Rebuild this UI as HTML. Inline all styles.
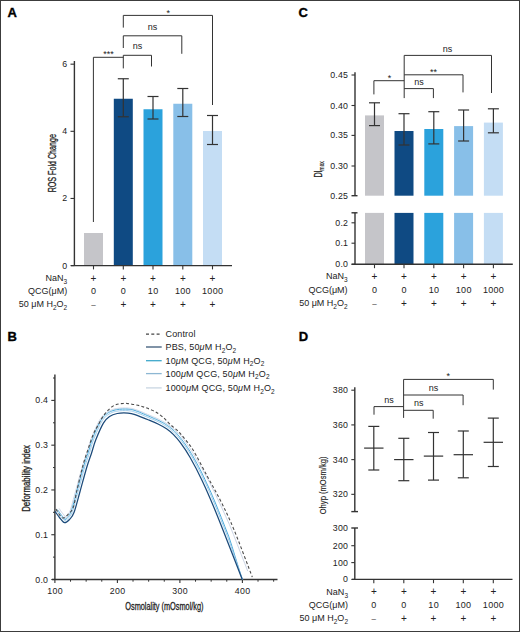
<!DOCTYPE html>
<html><head><meta charset="utf-8"><style>
html,body{margin:0;padding:0;background:#fff;}
svg{display:block;font-family:"Liberation Sans", sans-serif;}
</style></head><body>
<svg width="520" height="632" viewBox="0 0 520 632">
<rect x="0" y="0" width="520" height="632" fill="#fff"/>
<text x="7.5" y="16.6" font-size="13" text-anchor="start" fill="#000" font-weight="bold" stroke="#000" stroke-width="0.35">A</text>
<line x1="74.4" y1="61" x2="74.4" y2="265.6" stroke="#333" stroke-width="1.4" />
<line x1="70.5" y1="265.6" x2="74.4" y2="265.6" stroke="#333" stroke-width="1.1" />
<text x="67.45" y="268.6" font-size="8.8" text-anchor="end" fill="#222" letter-spacing="0.25" >0</text>
<line x1="70.5" y1="198.46" x2="74.4" y2="198.46" stroke="#333" stroke-width="1.1" />
<text x="67.45" y="201.46" font-size="8.8" text-anchor="end" fill="#222" letter-spacing="0.25" >2</text>
<line x1="70.5" y1="131.32" x2="74.4" y2="131.32" stroke="#333" stroke-width="1.1" />
<text x="67.45" y="134.32" font-size="8.8" text-anchor="end" fill="#222" letter-spacing="0.25" >4</text>
<line x1="70.5" y1="64.18" x2="74.4" y2="64.18" stroke="#333" stroke-width="1.1" />
<text x="67.45" y="67.18" font-size="8.8" text-anchor="end" fill="#222" letter-spacing="0.25" >6</text>
<rect x="84" y="233" width="19" height="32.6" fill="#c5c5c9"/>
<rect x="113.8" y="98.75" width="19" height="166.85" fill="#0f4a83"/>
<rect x="143.5" y="109.25" width="19" height="156.35" fill="#2ba2dc"/>
<rect x="173.3" y="103.75" width="19" height="161.85" fill="#88bfe8"/>
<rect x="203" y="131" width="19" height="134.6" fill="#c4ddf4"/>
<line x1="71" y1="265.6" x2="232" y2="265.6" stroke="#333" stroke-width="1.4" />
<line x1="93.5" y1="265.6" x2="93.5" y2="269.4" stroke="#333" stroke-width="1.1" />
<line x1="123.3" y1="265.6" x2="123.3" y2="269.4" stroke="#333" stroke-width="1.1" />
<line x1="153" y1="265.6" x2="153" y2="269.4" stroke="#333" stroke-width="1.1" />
<line x1="182.8" y1="265.6" x2="182.8" y2="269.4" stroke="#333" stroke-width="1.1" />
<line x1="212.5" y1="265.6" x2="212.5" y2="269.4" stroke="#333" stroke-width="1.1" />
<line x1="123.3" y1="78.75" x2="123.3" y2="116.75" stroke="#333" stroke-width="1.2" />
<line x1="117.8" y1="78.75" x2="128.8" y2="78.75" stroke="#333" stroke-width="1.2" />
<line x1="117.8" y1="116.75" x2="128.8" y2="116.75" stroke="#333" stroke-width="1.2" />
<line x1="153" y1="96.5" x2="153" y2="119" stroke="#333" stroke-width="1.2" />
<line x1="147.5" y1="96.5" x2="158.5" y2="96.5" stroke="#333" stroke-width="1.2" />
<line x1="147.5" y1="119" x2="158.5" y2="119" stroke="#333" stroke-width="1.2" />
<line x1="182.8" y1="88.5" x2="182.8" y2="116.5" stroke="#333" stroke-width="1.2" />
<line x1="177.3" y1="88.5" x2="188.3" y2="88.5" stroke="#333" stroke-width="1.2" />
<line x1="177.3" y1="116.5" x2="188.3" y2="116.5" stroke="#333" stroke-width="1.2" />
<line x1="212.5" y1="115.5" x2="212.5" y2="144.5" stroke="#333" stroke-width="1.2" />
<line x1="207" y1="115.5" x2="218" y2="115.5" stroke="#333" stroke-width="1.2" />
<line x1="207" y1="144.5" x2="218" y2="144.5" stroke="#333" stroke-width="1.2" />
<path d="M123.3,27.6V15.4H212.5V105" fill="none" stroke="#333" stroke-width="1.0" />
<path d="M123.3,48V35.8H181.8V53.8" fill="none" stroke="#333" stroke-width="1.0" />
<path d="M123.3,68.4V55.3H151.5V66.5" fill="none" stroke="#333" stroke-width="1.0" />
<path d="M93.4,222V57.3H123.3" fill="none" stroke="#333" stroke-width="1.0" />
<text x="168.2" y="15.5" font-size="9" text-anchor="middle" fill="#222" >*</text>
<text x="152.6" y="29.8" font-size="9" text-anchor="middle" fill="#222" >ns</text>
<text x="137.6" y="49.3" font-size="9" text-anchor="middle" fill="#222" >ns</text>
<text x="108.5" y="57" font-size="9" text-anchor="middle" fill="#222" >***</text>
<g transform="translate(55.6,163.2) rotate(-90) scale(0.68,1)"><text x="0" y="0" font-size="10.5" stroke="#222" stroke-width="0.3" text-anchor="middle" fill="#222">ROS Fold Change</text></g>
<text x="67.2" y="280.9" font-size="9" text-anchor="end" fill="#222" >NaN<tspan font-size="6.5" dy="2.8">3</tspan></text>
<text x="67.2" y="294.2" font-size="9" text-anchor="end" fill="#222" >QCG(μM)</text>
<text x="67.2" y="307.4" font-size="9" text-anchor="end" fill="#222" >50 μM H<tspan font-size="6.5" dy="2.8">2</tspan><tspan dy="-2.8">O</tspan><tspan font-size="6.5" dy="2.8">2</tspan></text>
<text x="93.5" y="281.9" font-size="10" text-anchor="middle" fill="#222" >+</text>
<text x="93.65" y="294.25" font-size="9" text-anchor="middle" fill="#222" letter-spacing="0.3" >0</text>
<text x="93.5" y="307.1" font-size="8" text-anchor="middle" fill="#222" >–</text>
<text x="123.3" y="281.9" font-size="10" text-anchor="middle" fill="#222" >+</text>
<text x="123.45" y="294.25" font-size="9" text-anchor="middle" fill="#222" letter-spacing="0.3" >0</text>
<text x="123.3" y="308.2" font-size="10" text-anchor="middle" fill="#222" >+</text>
<text x="153" y="281.9" font-size="10" text-anchor="middle" fill="#222" >+</text>
<text x="153.15" y="294.25" font-size="9" text-anchor="middle" fill="#222" letter-spacing="0.3" >10</text>
<text x="153" y="308.2" font-size="10" text-anchor="middle" fill="#222" >+</text>
<text x="182.8" y="281.9" font-size="10" text-anchor="middle" fill="#222" >+</text>
<text x="182.95" y="294.25" font-size="9" text-anchor="middle" fill="#222" letter-spacing="0.3" >100</text>
<text x="182.8" y="308.2" font-size="10" text-anchor="middle" fill="#222" >+</text>
<text x="212.5" y="281.9" font-size="10" text-anchor="middle" fill="#222" >+</text>
<text x="212.65" y="294.25" font-size="9" text-anchor="middle" fill="#222" letter-spacing="0.3" >1000</text>
<text x="212.5" y="308.2" font-size="10" text-anchor="middle" fill="#222" >+</text>
<text x="298.5" y="17.1" font-size="13" text-anchor="start" fill="#000" font-weight="bold" stroke="#000" stroke-width="0.35">C</text>
<line x1="355" y1="72.2" x2="355" y2="195.7" stroke="#333" stroke-width="1.4" />
<line x1="351.5" y1="195.7" x2="357.5" y2="195.7" stroke="#333" stroke-width="1.4" />
<line x1="351.5" y1="75" x2="355" y2="75" stroke="#333" stroke-width="1.1" />
<text x="348.25" y="78" font-size="8.8" text-anchor="end" fill="#222" letter-spacing="0.25" >0.45</text>
<line x1="351.5" y1="105.5" x2="355" y2="105.5" stroke="#333" stroke-width="1.1" />
<text x="348.25" y="108.5" font-size="8.8" text-anchor="end" fill="#222" letter-spacing="0.25" >0.40</text>
<line x1="351.5" y1="135.4" x2="355" y2="135.4" stroke="#333" stroke-width="1.1" />
<text x="348.25" y="138.4" font-size="8.8" text-anchor="end" fill="#222" letter-spacing="0.25" >0.35</text>
<line x1="351.5" y1="166" x2="355" y2="166" stroke="#333" stroke-width="1.1" />
<text x="348.25" y="169" font-size="8.8" text-anchor="end" fill="#222" letter-spacing="0.25" >0.30</text>
<text x="348.25" y="198.7" font-size="8.8" text-anchor="end" fill="#222" letter-spacing="0.25" >0.25</text>
<line x1="355" y1="212.8" x2="355" y2="264.3" stroke="#333" stroke-width="1.4" />
<line x1="351.5" y1="212.8" x2="357.5" y2="212.8" stroke="#333" stroke-width="1.4" />
<line x1="351.5" y1="222.8" x2="355" y2="222.8" stroke="#333" stroke-width="1.1" />
<text x="348.25" y="225.8" font-size="8.8" text-anchor="end" fill="#222" letter-spacing="0.25" >0.2</text>
<line x1="351.5" y1="243.2" x2="355" y2="243.2" stroke="#333" stroke-width="1.1" />
<text x="348.25" y="246.2" font-size="8.8" text-anchor="end" fill="#222" letter-spacing="0.25" >0.1</text>
<line x1="351.5" y1="264.3" x2="355" y2="264.3" stroke="#333" stroke-width="1.1" />
<text x="348.25" y="267.3" font-size="8.8" text-anchor="end" fill="#222" letter-spacing="0.25" >0.0</text>
<rect x="365" y="115.4" width="19" height="80.3" fill="#c5c5c9"/>
<rect x="365" y="212.9" width="19" height="51.4" fill="#c5c5c9"/>
<rect x="394.5" y="131" width="19" height="64.7" fill="#0f4a83"/>
<rect x="394.5" y="212.9" width="19" height="51.4" fill="#0f4a83"/>
<rect x="424.3" y="129" width="19" height="66.7" fill="#2ba2dc"/>
<rect x="424.3" y="212.9" width="19" height="51.4" fill="#2ba2dc"/>
<rect x="454.1" y="126.1" width="19" height="69.6" fill="#88bfe8"/>
<rect x="454.1" y="212.9" width="19" height="51.4" fill="#88bfe8"/>
<rect x="483.9" y="122.6" width="19" height="73.1" fill="#c4ddf4"/>
<rect x="483.9" y="212.9" width="19" height="51.4" fill="#c4ddf4"/>
<line x1="351.6" y1="264.3" x2="512.8" y2="264.3" stroke="#333" stroke-width="1.4" />
<line x1="374.5" y1="264.3" x2="374.5" y2="268.2" stroke="#333" stroke-width="1.1" />
<line x1="404" y1="264.3" x2="404" y2="268.2" stroke="#333" stroke-width="1.1" />
<line x1="433.8" y1="264.3" x2="433.8" y2="268.2" stroke="#333" stroke-width="1.1" />
<line x1="463.6" y1="264.3" x2="463.6" y2="268.2" stroke="#333" stroke-width="1.1" />
<line x1="493.4" y1="264.3" x2="493.4" y2="268.2" stroke="#333" stroke-width="1.1" />
<line x1="374.5" y1="102.8" x2="374.5" y2="125.6" stroke="#333" stroke-width="1.2" />
<line x1="369" y1="102.8" x2="380" y2="102.8" stroke="#333" stroke-width="1.2" />
<line x1="369" y1="125.6" x2="380" y2="125.6" stroke="#333" stroke-width="1.2" />
<line x1="404" y1="113.7" x2="404" y2="145" stroke="#333" stroke-width="1.2" />
<line x1="398.5" y1="113.7" x2="409.5" y2="113.7" stroke="#333" stroke-width="1.2" />
<line x1="398.5" y1="145" x2="409.5" y2="145" stroke="#333" stroke-width="1.2" />
<line x1="433.8" y1="111.7" x2="433.8" y2="143.9" stroke="#333" stroke-width="1.2" />
<line x1="428.3" y1="111.7" x2="439.3" y2="111.7" stroke="#333" stroke-width="1.2" />
<line x1="428.3" y1="143.9" x2="439.3" y2="143.9" stroke="#333" stroke-width="1.2" />
<line x1="463.6" y1="110" x2="463.6" y2="141" stroke="#333" stroke-width="1.2" />
<line x1="458.1" y1="110" x2="469.1" y2="110" stroke="#333" stroke-width="1.2" />
<line x1="458.1" y1="141" x2="469.1" y2="141" stroke="#333" stroke-width="1.2" />
<line x1="493.4" y1="108.8" x2="493.4" y2="132.8" stroke="#333" stroke-width="1.2" />
<line x1="487.9" y1="108.8" x2="498.9" y2="108.8" stroke="#333" stroke-width="1.2" />
<line x1="487.9" y1="132.8" x2="498.9" y2="132.8" stroke="#333" stroke-width="1.2" />
<path d="M373.9,94.4V80.7H404.2" fill="none" stroke="#333" stroke-width="1.0" />
<line x1="404.2" y1="55.4" x2="404.2" y2="98.1" stroke="#333" stroke-width="1.0" />
<path d="M404.2,55.4H491.5V93" fill="none" stroke="#333" stroke-width="1.0" />
<path d="M404.2,74.8H463V92.4" fill="none" stroke="#333" stroke-width="1.0" />
<path d="M404.2,88.6H433.4V98.1" fill="none" stroke="#333" stroke-width="1.0" />
<text x="389.4" y="81" font-size="9" text-anchor="middle" fill="#222" >*</text>
<text x="447.5" y="51.8" font-size="9" text-anchor="middle" fill="#222" >ns</text>
<text x="433.4" y="74.8" font-size="9" text-anchor="middle" fill="#222" >**</text>
<text x="419" y="84.6" font-size="9" text-anchor="middle" fill="#222" >ns</text>
<g transform="translate(322.0,169.4) rotate(-90) scale(0.72,1)"><text x="0" y="0" font-size="10" stroke="#222" stroke-width="0.25" text-anchor="middle" fill="#222">DI<tspan font-size="6.8" dy="2.1" stroke-width="0.15">max</tspan></text></g>
<text x="347.6" y="279.3" font-size="9" text-anchor="end" fill="#222" >NaN<tspan font-size="6.5" dy="2.8">3</tspan></text>
<text x="347.6" y="292.7" font-size="9" text-anchor="end" fill="#222" >QCG(μM)</text>
<text x="347.6" y="305.9" font-size="9" text-anchor="end" fill="#222" >50 μM H<tspan font-size="6.5" dy="2.8">2</tspan><tspan dy="-2.8">O</tspan><tspan font-size="6.5" dy="2.8">2</tspan></text>
<text x="374.5" y="280.3" font-size="10" text-anchor="middle" fill="#222" >+</text>
<text x="374.65" y="292.75" font-size="9" text-anchor="middle" fill="#222" letter-spacing="0.3" >0</text>
<text x="374.5" y="305.7" font-size="8" text-anchor="middle" fill="#222" >–</text>
<text x="404" y="280.3" font-size="10" text-anchor="middle" fill="#222" >+</text>
<text x="404.15" y="292.75" font-size="9" text-anchor="middle" fill="#222" letter-spacing="0.3" >0</text>
<text x="404" y="306.8" font-size="10" text-anchor="middle" fill="#222" >+</text>
<text x="433.8" y="280.3" font-size="10" text-anchor="middle" fill="#222" >+</text>
<text x="433.95" y="292.75" font-size="9" text-anchor="middle" fill="#222" letter-spacing="0.3" >10</text>
<text x="433.8" y="306.8" font-size="10" text-anchor="middle" fill="#222" >+</text>
<text x="463.6" y="280.3" font-size="10" text-anchor="middle" fill="#222" >+</text>
<text x="463.75" y="292.75" font-size="9" text-anchor="middle" fill="#222" letter-spacing="0.3" >100</text>
<text x="463.6" y="306.8" font-size="10" text-anchor="middle" fill="#222" >+</text>
<text x="493.4" y="280.3" font-size="10" text-anchor="middle" fill="#222" >+</text>
<text x="493.55" y="292.75" font-size="9" text-anchor="middle" fill="#222" letter-spacing="0.3" >1000</text>
<text x="493.4" y="306.8" font-size="10" text-anchor="middle" fill="#222" >+</text>
<text x="298.8" y="341" font-size="13" text-anchor="start" fill="#000" font-weight="bold" stroke="#000" stroke-width="0.35">D</text>
<line x1="354.8" y1="387.3" x2="354.8" y2="511.6" stroke="#333" stroke-width="1.4" />
<line x1="351.3" y1="511.6" x2="358" y2="511.6" stroke="#333" stroke-width="1.4" />
<line x1="351.3" y1="390.2" x2="354.8" y2="390.2" stroke="#333" stroke-width="1.1" />
<text x="348.25" y="393.2" font-size="8.8" text-anchor="end" fill="#222" letter-spacing="0.25" >380</text>
<line x1="351.3" y1="424.91" x2="354.8" y2="424.91" stroke="#333" stroke-width="1.1" />
<text x="348.25" y="427.91" font-size="8.8" text-anchor="end" fill="#222" letter-spacing="0.25" >360</text>
<line x1="351.3" y1="459.62" x2="354.8" y2="459.62" stroke="#333" stroke-width="1.1" />
<text x="348.25" y="462.62" font-size="8.8" text-anchor="end" fill="#222" letter-spacing="0.25" >340</text>
<line x1="351.3" y1="494.33" x2="354.8" y2="494.33" stroke="#333" stroke-width="1.1" />
<text x="348.25" y="497.33" font-size="8.8" text-anchor="end" fill="#222" letter-spacing="0.25" >320</text>
<line x1="354.8" y1="528" x2="354.8" y2="579.4" stroke="#333" stroke-width="1.4" />
<line x1="351.3" y1="528" x2="358" y2="528" stroke="#333" stroke-width="1.4" />
<text x="348.25" y="531" font-size="8.8" text-anchor="end" fill="#222" letter-spacing="0.25" >300</text>
<line x1="351.3" y1="545.7" x2="354.8" y2="545.7" stroke="#333" stroke-width="1.1" />
<text x="348.25" y="548.7" font-size="8.8" text-anchor="end" fill="#222" letter-spacing="0.25" >200</text>
<line x1="351.3" y1="562.6" x2="354.8" y2="562.6" stroke="#333" stroke-width="1.1" />
<text x="348.25" y="565.6" font-size="8.8" text-anchor="end" fill="#222" letter-spacing="0.25" >100</text>
<line x1="351.3" y1="579.4" x2="354.8" y2="579.4" stroke="#333" stroke-width="1.1" />
<text x="348.25" y="582.4" font-size="8.8" text-anchor="end" fill="#222" letter-spacing="0.25" >0</text>
<line x1="352" y1="579.4" x2="512.5" y2="579.4" stroke="#333" stroke-width="1.4" />
<line x1="373.8" y1="579.4" x2="373.8" y2="583.2" stroke="#333" stroke-width="1.1" />
<line x1="403.8" y1="579.4" x2="403.8" y2="583.2" stroke="#333" stroke-width="1.1" />
<line x1="433.5" y1="579.4" x2="433.5" y2="583.2" stroke="#333" stroke-width="1.1" />
<line x1="463.3" y1="579.4" x2="463.3" y2="583.2" stroke="#333" stroke-width="1.1" />
<line x1="493.3" y1="579.4" x2="493.3" y2="583.2" stroke="#333" stroke-width="1.1" />
<line x1="373.8" y1="426.4" x2="373.8" y2="470" stroke="#333" stroke-width="1.2" />
<line x1="368.3" y1="426.4" x2="379.3" y2="426.4" stroke="#333" stroke-width="1.2" />
<line x1="368.3" y1="470" x2="379.3" y2="470" stroke="#333" stroke-width="1.2" />
<line x1="364.1" y1="448.1" x2="383.5" y2="448.1" stroke="#333" stroke-width="1.2" />
<line x1="403.8" y1="438.3" x2="403.8" y2="480.7" stroke="#333" stroke-width="1.2" />
<line x1="398.3" y1="438.3" x2="409.3" y2="438.3" stroke="#333" stroke-width="1.2" />
<line x1="398.3" y1="480.7" x2="409.3" y2="480.7" stroke="#333" stroke-width="1.2" />
<line x1="394.1" y1="459.6" x2="413.5" y2="459.6" stroke="#333" stroke-width="1.2" />
<line x1="433.5" y1="432.5" x2="433.5" y2="480.1" stroke="#333" stroke-width="1.2" />
<line x1="428" y1="432.5" x2="439" y2="432.5" stroke="#333" stroke-width="1.2" />
<line x1="428" y1="480.1" x2="439" y2="480.1" stroke="#333" stroke-width="1.2" />
<line x1="423.8" y1="456.1" x2="443.2" y2="456.1" stroke="#333" stroke-width="1.2" />
<line x1="463.3" y1="431" x2="463.3" y2="477.8" stroke="#333" stroke-width="1.2" />
<line x1="457.8" y1="431" x2="468.8" y2="431" stroke="#333" stroke-width="1.2" />
<line x1="457.8" y1="477.8" x2="468.8" y2="477.8" stroke="#333" stroke-width="1.2" />
<line x1="453.6" y1="454.7" x2="473" y2="454.7" stroke="#333" stroke-width="1.2" />
<line x1="493.3" y1="418.1" x2="493.3" y2="466.5" stroke="#333" stroke-width="1.2" />
<line x1="487.8" y1="418.1" x2="498.8" y2="418.1" stroke="#333" stroke-width="1.2" />
<line x1="487.8" y1="466.5" x2="498.8" y2="466.5" stroke="#333" stroke-width="1.2" />
<line x1="483.6" y1="442.3" x2="503" y2="442.3" stroke="#333" stroke-width="1.2" />
<path d="M374,414.7V406.6H403.6" fill="none" stroke="#333" stroke-width="1.0" />
<line x1="403.6" y1="379.4" x2="403.6" y2="417.9" stroke="#333" stroke-width="1.0" />
<path d="M403.6,379.4H493.3V389.6" fill="none" stroke="#333" stroke-width="1.0" />
<path d="M403.6,395H463.1V405.2" fill="none" stroke="#333" stroke-width="1.0" />
<path d="M403.6,410.3H433.2V418.7" fill="none" stroke="#333" stroke-width="1.0" />
<text x="448.3" y="379" font-size="9" text-anchor="middle" fill="#222" >*</text>
<text x="433.5" y="390.5" font-size="9" text-anchor="middle" fill="#222" >ns</text>
<text x="418.7" y="405.8" font-size="9" text-anchor="middle" fill="#222" >ns</text>
<text x="389.1" y="403.2" font-size="9" text-anchor="middle" fill="#222" >ns</text>
<g transform="translate(326.4,485.4) rotate(-90) scale(0.8,1)"><text x="0" y="0" font-size="9.5" stroke="#222" stroke-width="0.15" text-anchor="middle" fill="#222">Ohyp (mOsm/kg)</text></g>
<text x="348" y="594.9" font-size="9" text-anchor="end" fill="#222" >NaN<tspan font-size="6.5" dy="2.8">3</tspan></text>
<text x="348" y="608" font-size="9" text-anchor="end" fill="#222" >QCG(μM)</text>
<text x="348" y="621.4" font-size="9" text-anchor="end" fill="#222" >50 μM H<tspan font-size="6.5" dy="2.8">2</tspan><tspan dy="-2.8">O</tspan><tspan font-size="6.5" dy="2.8">2</tspan></text>
<text x="373.8" y="595.3" font-size="10" text-anchor="middle" fill="#222" >+</text>
<text x="373.95" y="608.05" font-size="9" text-anchor="middle" fill="#222" letter-spacing="0.3" >0</text>
<text x="373.8" y="621.1" font-size="8" text-anchor="middle" fill="#222" >–</text>
<text x="403.8" y="595.3" font-size="10" text-anchor="middle" fill="#222" >+</text>
<text x="403.95" y="608.05" font-size="9" text-anchor="middle" fill="#222" letter-spacing="0.3" >0</text>
<text x="403.8" y="622.2" font-size="10" text-anchor="middle" fill="#222" >+</text>
<text x="433.5" y="595.3" font-size="10" text-anchor="middle" fill="#222" >+</text>
<text x="433.65" y="608.05" font-size="9" text-anchor="middle" fill="#222" letter-spacing="0.3" >10</text>
<text x="433.5" y="622.2" font-size="10" text-anchor="middle" fill="#222" >+</text>
<text x="463.3" y="595.3" font-size="10" text-anchor="middle" fill="#222" >+</text>
<text x="463.45" y="608.05" font-size="9" text-anchor="middle" fill="#222" letter-spacing="0.3" >100</text>
<text x="463.3" y="622.2" font-size="10" text-anchor="middle" fill="#222" >+</text>
<text x="493.3" y="595.3" font-size="10" text-anchor="middle" fill="#222" >+</text>
<text x="493.45" y="608.05" font-size="9" text-anchor="middle" fill="#222" letter-spacing="0.3" >1000</text>
<text x="493.3" y="622.2" font-size="10" text-anchor="middle" fill="#222" >+</text>
<text x="7.6" y="341" font-size="13" text-anchor="start" fill="#000" font-weight="bold" stroke="#000" stroke-width="0.35">B</text>
<line x1="54.9" y1="374.6" x2="54.9" y2="579.5" stroke="#333" stroke-width="1.4" />
<line x1="51.3" y1="579.5" x2="54.9" y2="579.5" stroke="#333" stroke-width="1.1" />
<text x="48.25" y="582.5" font-size="8.8" text-anchor="end" fill="#222" letter-spacing="0.25" >0.0</text>
<line x1="53" y1="557.11" x2="54.9" y2="557.11" stroke="#333" stroke-width="1.0" />
<line x1="51.3" y1="534.73" x2="54.9" y2="534.73" stroke="#333" stroke-width="1.1" />
<text x="48.25" y="537.73" font-size="8.8" text-anchor="end" fill="#222" letter-spacing="0.25" >0.1</text>
<line x1="53" y1="512.34" x2="54.9" y2="512.34" stroke="#333" stroke-width="1.0" />
<line x1="51.3" y1="489.95" x2="54.9" y2="489.95" stroke="#333" stroke-width="1.1" />
<text x="48.25" y="492.95" font-size="8.8" text-anchor="end" fill="#222" letter-spacing="0.25" >0.2</text>
<line x1="53" y1="467.56" x2="54.9" y2="467.56" stroke="#333" stroke-width="1.0" />
<line x1="51.3" y1="445.17" x2="54.9" y2="445.17" stroke="#333" stroke-width="1.1" />
<text x="48.25" y="448.17" font-size="8.8" text-anchor="end" fill="#222" letter-spacing="0.25" >0.3</text>
<line x1="53" y1="422.79" x2="54.9" y2="422.79" stroke="#333" stroke-width="1.0" />
<line x1="51.3" y1="400.4" x2="54.9" y2="400.4" stroke="#333" stroke-width="1.1" />
<text x="48.25" y="403.4" font-size="8.8" text-anchor="end" fill="#222" letter-spacing="0.25" >0.4</text>
<line x1="53" y1="378.01" x2="54.9" y2="378.01" stroke="#333" stroke-width="1.0" />
<line x1="52" y1="579.5" x2="277.5" y2="579.5" stroke="#333" stroke-width="1.4" />
<line x1="54.9" y1="579.5" x2="54.9" y2="583" stroke="#333" stroke-width="1.1" />
<text x="55.1" y="594" font-size="8.8" text-anchor="middle" fill="#222" letter-spacing="0.4" >100</text>
<line x1="70.53" y1="579.5" x2="70.53" y2="581.7" stroke="#333" stroke-width="1.0" />
<line x1="86.15" y1="579.5" x2="86.15" y2="581.7" stroke="#333" stroke-width="1.0" />
<line x1="101.78" y1="579.5" x2="101.78" y2="581.7" stroke="#333" stroke-width="1.0" />
<line x1="117.4" y1="579.5" x2="117.4" y2="583" stroke="#333" stroke-width="1.1" />
<text x="117.6" y="594" font-size="8.8" text-anchor="middle" fill="#222" letter-spacing="0.4" >200</text>
<line x1="133.03" y1="579.5" x2="133.03" y2="581.7" stroke="#333" stroke-width="1.0" />
<line x1="148.65" y1="579.5" x2="148.65" y2="581.7" stroke="#333" stroke-width="1.0" />
<line x1="164.28" y1="579.5" x2="164.28" y2="581.7" stroke="#333" stroke-width="1.0" />
<line x1="179.9" y1="579.5" x2="179.9" y2="583" stroke="#333" stroke-width="1.1" />
<text x="180.1" y="594" font-size="8.8" text-anchor="middle" fill="#222" letter-spacing="0.4" >300</text>
<line x1="195.53" y1="579.5" x2="195.53" y2="581.7" stroke="#333" stroke-width="1.0" />
<line x1="211.15" y1="579.5" x2="211.15" y2="581.7" stroke="#333" stroke-width="1.0" />
<line x1="226.78" y1="579.5" x2="226.78" y2="581.7" stroke="#333" stroke-width="1.0" />
<line x1="242.4" y1="579.5" x2="242.4" y2="583" stroke="#333" stroke-width="1.1" />
<text x="242.6" y="594" font-size="8.8" text-anchor="middle" fill="#222" letter-spacing="0.4" >400</text>
<line x1="258.02" y1="579.5" x2="258.02" y2="581.7" stroke="#333" stroke-width="1.0" />
<line x1="273.65" y1="579.5" x2="273.65" y2="581.7" stroke="#333" stroke-width="1.0" />
<g transform="translate(164.4,609.6) scale(0.7,1)"><text x="0" y="0" font-size="10.5" stroke="#222" stroke-width="0.3" text-anchor="middle" fill="#222">Osmolality (mOsmol/kg)</text></g>
<g transform="translate(30.2,478.4) rotate(-90) scale(0.75,1)"><text x="0" y="0" font-size="10.5" stroke="#222" stroke-width="0.3" text-anchor="middle" fill="#222">Deformability index</text></g>
<path d="M59.1,508.4 L59.4,508.9 L59.9,509.6 L60.4,510.4 L61.0,511.2 L61.6,512.1 L62.2,512.9 L62.8,513.7 L63.4,514.3 L64.1,515.2 L64.7,516.1 L65.3,516.8 L65.8,517.5 L66.2,518.0 L66.4,518.2 L66.3,518.1 L65.5,517.8 L64.6,517.8 L64.1,517.9 L63.9,517.9 L64.0,517.9 L64.4,517.6 L64.8,517.2 L65.3,516.7 L65.8,516.1 L66.5,515.4 L67.0,514.9 L67.4,514.5 L67.7,514.0 L68.6,513.9 L69.1,513.2 L69.5,512.1 L70.1,510.8 L70.7,509.1 L71.3,507.0 L72.0,504.7 L72.7,502.1 L73.4,499.4 L74.2,496.6 L74.9,493.7 L75.7,490.8 L76.5,487.9 L77.4,484.8 L78.2,481.5 L79.1,478.2 L80.0,475.0 L80.9,471.8 L81.7,468.9 L82.4,466.2 L83.2,463.9 L83.8,461.8 L84.4,459.9 L85.0,458.2 L85.6,456.5 L86.1,455.0 L86.7,453.4 L87.2,451.8 L87.7,450.2 L88.2,448.6 L88.6,447.1 L89.0,445.5 L89.5,443.8 L90.1,442.1 L90.7,440.3 L91.4,438.3 L92.2,436.3 L93.1,434.0 L94.1,431.6 L95.2,429.2 L96.2,426.9 L97.3,424.6 L98.3,422.5 L99.3,420.7 L100.2,419.2 L101.2,417.8 L102.1,416.6 L103.0,415.6 L104.0,414.6 L104.9,413.8 L105.8,413.1 L106.8,412.5 L107.8,411.8 L109.0,411.1 L110.1,410.5 L111.3,410.0 L112.5,409.6 L113.7,409.2 L115.0,408.9 L116.3,408.6 L117.8,408.4 L119.3,408.2 L120.9,408.1 L122.5,408.0 L124.1,408.0 L125.6,408.0 L127.0,408.0 L128.3,408.1 L129.4,408.2 L130.4,408.3 L131.4,408.4 L132.3,408.6 L133.3,408.9 L134.3,409.2 L135.3,409.5 L136.6,409.9 L138.1,410.5 L139.9,411.2 L141.8,411.9 L143.8,412.8 L145.7,413.6 L147.6,414.4 L149.4,415.2 L151.0,415.9 L152.4,416.4 L153.7,417.0 L154.9,417.5 L156.0,418.0 L157.1,418.5 L158.3,419.0 L159.4,419.6 L160.5,420.2 L161.6,420.7 L162.7,421.3 L163.8,421.9 L164.8,422.5 L165.9,423.1 L166.9,423.8 L168.0,424.5 L169.0,425.2 L170.0,425.9 L170.9,426.6 L171.9,427.4 L172.8,428.1 L173.8,428.9 L174.7,429.8 L175.6,430.6 L176.5,431.5 L177.4,432.5 L178.5,433.2 L179.4,434.1 L180.3,435.1 L181.2,436.2 L182.1,437.3 L183.1,438.6 L184.1,440.0 L185.2,441.4 L186.3,443.0 L187.5,444.6 L188.7,446.4 L189.9,448.3 L191.2,450.3 L192.6,452.5 L194.0,454.9 L195.4,457.4 L197.0,460.1 L198.6,462.8 L200.3,465.7 L202.1,468.7 L203.8,471.9 L205.6,475.1 L207.4,478.5 L209.1,481.7 L210.7,484.7 L212.2,487.8 L213.9,491.0 L215.6,494.6 L217.5,498.7 L219.8,503.4 L222.4,509.0 L225.6,516.1 L229.5,524.7 L233.4,534.4 L237.4,544.6 L241.2,554.5 L244.8,563.5 L247.7,571.1" fill="none" stroke="#ccd5e6" stroke-width="1.0" stroke-linejoin="round"/>
<path d="M57.4,509.6 L57.8,510.1 L58.3,510.7 L58.8,511.5 L59.4,512.3 L60.0,513.2 L60.6,514.1 L61.3,514.9 L61.8,515.6 L62.5,516.4 L63.1,517.3 L63.7,518.1 L64.3,518.8 L64.8,519.3 L65.2,519.7 L65.3,519.8 L65.1,519.8 L64.8,519.7 L64.8,519.8 L64.9,519.7 L65.2,519.5 L65.7,519.1 L66.2,518.6 L66.7,518.1 L67.3,517.5 L67.9,516.8 L68.5,516.2 L68.9,515.7 L69.3,515.2 L69.7,514.5 L70.1,513.7 L70.6,512.6 L71.2,511.2 L71.8,509.4 L72.5,507.3 L73.1,505.0 L73.8,502.4 L74.6,499.7 L75.3,496.9 L76.1,494.0 L76.8,491.1 L77.6,488.2 L78.5,485.1 L79.4,481.8 L80.3,478.5 L81.1,475.3 L82.0,472.1 L82.8,469.2 L83.6,466.6 L84.3,464.2 L84.9,462.2 L85.5,460.3 L86.1,458.5 L86.7,456.9 L87.2,455.4 L87.8,453.8 L88.3,452.2 L88.8,450.5 L89.3,449.0 L89.7,447.4 L90.2,445.8 L90.6,444.2 L91.2,442.5 L91.8,440.7 L92.5,438.7 L93.3,436.7 L94.2,434.4 L95.2,432.1 L96.2,429.7 L97.3,427.3 L98.3,425.1 L99.3,423.1 L100.3,421.3 L101.2,419.8 L102.1,418.5 L102.9,417.3 L103.8,416.3 L104.7,415.5 L105.6,414.7 L106.5,414.1 L107.4,413.4 L108.4,412.7 L109.5,412.1 L110.6,411.5 L111.7,411.1 L112.9,410.6 L114.0,410.3 L115.2,410.0 L116.5,409.7 L117.9,409.5 L119.4,409.3 L121.0,409.2 L122.5,409.1 L124.1,409.1 L125.6,409.1 L127.0,409.1 L128.2,409.2 L129.3,409.3 L130.3,409.4 L131.2,409.5 L132.1,409.7 L133.0,409.9 L134.0,410.2 L135.0,410.5 L136.2,411.0 L137.8,411.5 L139.5,412.2 L141.4,413.0 L143.3,413.8 L145.3,414.6 L147.2,415.5 L149.0,416.2 L150.5,416.9 L151.9,417.5 L153.2,418.1 L154.4,418.6 L155.6,419.1 L156.7,419.6 L157.8,420.1 L158.9,420.6 L160.0,421.2 L161.1,421.8 L162.2,422.3 L163.2,422.9 L164.3,423.5 L165.3,424.2 L166.3,424.8 L167.3,425.5 L168.3,426.2 L169.3,426.8 L170.2,427.6 L171.2,428.3 L172.1,429.0 L173.0,429.8 L173.9,430.6 L174.8,431.5 L175.7,432.4 L176.6,433.3 L177.4,434.3 L178.2,435.2 L179.1,436.1 L179.9,437.2 L180.8,438.3 L181.8,439.6 L182.8,440.9 L183.9,442.4 L185.0,443.9 L186.1,445.5 L187.3,447.3 L188.6,449.2 L189.9,451.2 L191.2,453.4 L192.6,455.7 L194.0,458.2 L195.5,460.9 L197.0,463.7 L198.6,466.6 L200.2,469.7 L201.8,472.9 L203.4,476.2 L205.0,479.6 L206.5,482.9 L208.0,486.0 L209.4,489.1 L210.9,492.3 L212.4,495.9 L214.2,500.1 L216.2,504.9 L218.5,510.6 L221.4,517.8 L224.8,526.5 L228.7,536.3 L232.1,546.7 L235.2,556.8 L238.1,566.1 L240.5,573.9 L242.3,579.5" fill="none" stroke="#49a9da" stroke-width="1.0" stroke-linejoin="round"/>
<path d="M56.5,510.3 L56.8,510.8 L57.3,511.4 L57.8,512.2 L58.4,513.0 L59.0,513.9 L59.7,514.8 L60.3,515.6 L60.9,516.4 L61.5,517.2 L62.2,518.0 L62.8,518.8 L63.4,519.5 L63.9,520.2 L64.4,520.6 L64.7,520.9 L64.9,520.9 L65.0,520.9 L65.2,520.9 L65.5,520.7 L66.0,520.4 L66.5,520.0 L67.0,519.5 L67.6,518.9 L68.2,518.3 L68.8,517.6 L69.3,517.1 L69.8,516.5 L70.3,515.9 L70.7,515.2 L71.2,514.3 L71.8,513.1 L72.3,511.6 L73.0,509.8 L73.6,507.7 L74.3,505.3 L75.0,502.7 L75.8,500.0 L76.5,497.2 L77.3,494.3 L78.1,491.5 L78.9,488.6 L79.7,485.4 L80.6,482.2 L81.5,478.9 L82.4,475.6 L83.2,472.5 L84.0,469.6 L84.8,466.9 L85.5,464.6 L86.2,462.6 L86.8,460.7 L87.4,459.0 L87.9,457.4 L88.5,455.8 L89.0,454.2 L89.6,452.6 L90.1,450.9 L90.5,449.3 L91.0,447.8 L91.4,446.2 L91.9,444.6 L92.4,442.9 L93.0,441.1 L93.7,439.2 L94.6,437.2 L95.5,435.0 L96.4,432.6 L97.5,430.3 L98.5,427.9 L99.5,425.7 L100.5,423.7 L101.5,422.0 L102.4,420.5 L103.2,419.3 L104.0,418.3 L104.8,417.3 L105.7,416.6 L106.5,415.9 L107.3,415.2 L108.2,414.6 L109.2,414.0 L110.2,413.4 L111.2,412.9 L112.2,412.4 L113.3,412.0 L114.4,411.7 L115.6,411.4 L116.8,411.2 L118.1,411.0 L119.6,410.8 L121.1,410.7 L122.6,410.6 L124.1,410.6 L125.5,410.6 L126.9,410.6 L128.1,410.7 L129.2,410.8 L130.1,410.9 L131.0,411.0 L131.8,411.1 L132.6,411.4 L133.5,411.6 L134.5,412.0 L135.8,412.4 L137.3,412.9 L139.0,413.6 L140.9,414.3 L142.8,415.1 L144.8,416.0 L146.7,416.8 L148.4,417.5 L150.0,418.2 L151.4,418.8 L152.7,419.3 L153.9,419.8 L155.1,420.3 L156.2,420.8 L157.2,421.3 L158.3,421.8 L159.4,422.4 L160.5,422.9 L161.6,423.5 L162.6,424.1 L163.6,424.7 L164.6,425.3 L165.6,425.9 L166.6,426.5 L167.6,427.2 L168.6,427.9 L169.5,428.6 L170.4,429.3 L171.3,430.0 L172.2,430.8 L173.1,431.6 L173.9,432.4 L174.8,433.3 L175.7,434.1 L176.6,435.0 L177.4,435.9 L178.2,436.9 L179.1,437.9 L180.0,439.0 L180.9,440.2 L181.9,441.6 L183.0,443.0 L184.1,444.6 L185.2,446.2 L186.4,447.9 L187.7,449.8 L189.0,451.8 L190.3,453.9 L191.6,456.3 L193.1,458.7 L194.5,461.4 L196.0,464.2 L197.6,467.2 L199.2,470.2 L200.8,473.4 L202.4,476.7 L204.0,480.1 L205.6,483.4 L207.0,486.4 L208.4,489.5 L209.8,492.8 L211.4,496.4 L213.1,500.5 L215.1,505.3 L217.5,511.0 L220.3,518.2 L223.8,526.9 L227.6,536.7 L231.3,547.0 L234.7,557.0 L237.8,566.2 L240.5,573.9 L242.7,579.4" fill="none" stroke="#9ccbeb" stroke-width="1.0" stroke-linejoin="round"/>
<path d="M55.0,511.3C55.8,512.3 57.9,515.6 59.5,517.5C61.1,519.4 62.8,522.4 64.5,522.7C66.2,523.0 67.9,521.2 69.5,519.5C71.1,517.8 72.4,516.9 74.1,512.3C75.8,507.7 77.8,499.5 79.9,492.0C82.0,484.5 84.8,474.0 86.7,467.5C88.6,461.0 90.0,457.8 91.5,453.2C93.0,448.6 93.7,445.0 95.7,440.0C97.7,435.0 101.1,427.0 103.4,423.1C105.7,419.2 107.2,418.1 109.5,416.5C111.8,414.9 114.1,414.1 117.2,413.5C120.3,412.9 125.0,412.9 128.0,413.1C131.0,413.3 131.5,413.4 135.0,414.6C138.5,415.8 145.3,418.6 149.2,420.2C153.1,421.8 155.6,422.8 158.5,424.2C161.4,425.6 164.0,427.1 166.5,428.8C169.0,430.5 171.2,432.3 173.5,434.6C175.8,436.9 177.7,438.9 180.4,442.7C183.2,446.5 186.3,450.8 190.0,457.2C193.7,463.6 198.0,471.8 202.3,480.9C206.6,490.0 209.0,495.3 215.7,511.7C222.4,528.1 237.9,568.2 242.3,579.5" fill="none" stroke="#1b4a7a" stroke-width="1.25" />
<path d="M56.0,509.0C56.5,509.8 57.8,512.5 59.0,514.0C60.2,515.5 61.5,517.9 63.0,518.0C64.5,518.1 66.3,516.2 68.0,514.5C69.7,512.8 71.7,511.6 73.2,507.5C74.7,503.4 75.7,495.7 77.0,490.0C78.3,484.3 79.9,477.6 81.0,473.2C82.1,468.8 82.3,467.5 83.4,463.7C84.5,459.9 86.1,455.1 87.7,450.4C89.3,445.6 91.2,439.4 92.9,435.2C94.6,431.0 96.0,429.0 98.0,425.4C100.0,421.8 102.2,417.1 104.9,413.8C107.6,410.5 111.0,407.1 114.2,405.4C117.4,403.7 121.0,403.6 124.0,403.4C127.0,403.2 129.2,403.8 131.9,404.2C134.6,404.6 137.5,405.1 140.0,405.8C142.5,406.5 144.4,407.2 146.9,408.1C149.4,409.1 152.3,410.0 155.0,411.5C157.7,413.0 160.6,415.2 163.1,417.3C165.6,419.4 167.5,421.9 170.0,424.2C172.5,426.5 175.6,428.7 178.1,431.2C180.6,433.7 182.5,436.1 185.0,439.2C187.5,442.3 189.3,443.8 193.1,450.0C196.8,456.2 202.9,468.1 207.5,476.7C212.1,485.3 216.5,492.5 220.9,501.4C225.3,510.3 229.0,517.6 234.2,530.2C239.4,542.8 249.3,569.3 252.3,577.1" fill="none" stroke="#4a4a4a" stroke-width="1.1" stroke-dasharray="3,2.2"/>
<line x1="146" y1="334.2" x2="161.7" y2="334.2" stroke="#444" stroke-width="1.3" stroke-dasharray="3,2.3"/>
<text x="165.5" y="337.4" font-size="9" text-anchor="start" fill="#222" letter-spacing="0.15" >Control</text>
<line x1="146" y1="347" x2="161.7" y2="347" stroke="#3b5877" stroke-width="1.3" />
<text x="165.5" y="350.2" font-size="9" text-anchor="start" fill="#222" letter-spacing="0.15" >PBS, 50<tspan font-style="italic">μ</tspan>M H<tspan font-size="6.5" dy="2.5">2</tspan><tspan dy="-2.5">O</tspan><tspan font-size="6.5" dy="2.5">2</tspan></text>
<line x1="146" y1="360.7" x2="161.7" y2="360.7" stroke="#3fa8cb" stroke-width="1.3" />
<text x="165.5" y="363.9" font-size="9" text-anchor="start" fill="#222" letter-spacing="0.15" >10<tspan font-style="italic">μ</tspan>M QCG, 50<tspan font-style="italic">μ</tspan>M H<tspan font-size="6.5" dy="2.5">2</tspan><tspan dy="-2.5">O</tspan><tspan font-size="6.5" dy="2.5">2</tspan></text>
<line x1="146" y1="373.6" x2="161.7" y2="373.6" stroke="#8db7d3" stroke-width="1.3" />
<text x="165.5" y="376.8" font-size="9" text-anchor="start" fill="#222" letter-spacing="0.15" >100<tspan font-style="italic">μ</tspan>M QCG, 50<tspan font-style="italic">μ</tspan>M H<tspan font-size="6.5" dy="2.5">2</tspan><tspan dy="-2.5">O</tspan><tspan font-size="6.5" dy="2.5">2</tspan></text>
<line x1="146" y1="387.9" x2="161.7" y2="387.9" stroke="#c8d6e2" stroke-width="1.3" />
<text x="165.5" y="391.1" font-size="9" text-anchor="start" fill="#222" letter-spacing="0.15" >1000<tspan font-style="italic">μ</tspan>M QCG, 50<tspan font-style="italic">μ</tspan>M H<tspan font-size="6.5" dy="2.5">2</tspan><tspan dy="-2.5">O</tspan><tspan font-size="6.5" dy="2.5">2</tspan></text>
<rect x="0.5" y="0.5" width="519" height="631" fill="none" stroke="#3c3c3c" stroke-width="1"/>
</svg>
</body></html>
